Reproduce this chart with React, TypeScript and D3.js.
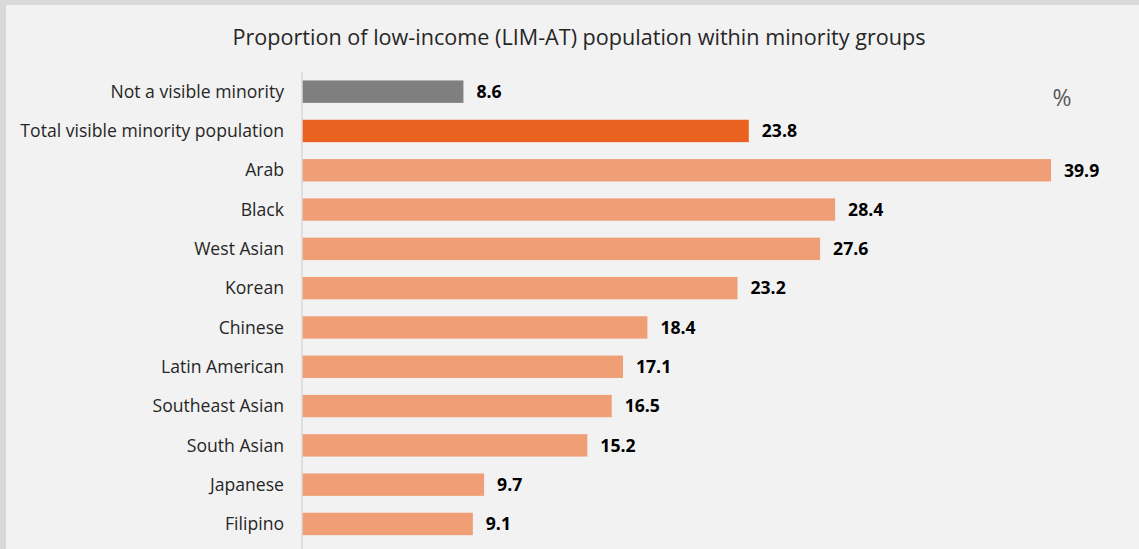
import React, { useRef, useEffect } from "react";
import { select, scaleLinear, scaleBand } from "d3";

const categories = [
  "Not a visible minority",
  "Total visible minority population",
  "Arab",
  "Black",
  "West Asian",
  "Korean",
  "Chinese",
  "Latin American",
  "Southeast Asian",
  "South Asian",
  "Japanese",
  "Filipino",
];
const values = [8.6, 23.8, 39.9, 28.4, 27.6, 23.2, 18.4, 17.1, 16.5, 15.2, 9.7, 9.1];
const title = "Proportion of low-income (LIM-AT) population within minority groups";
const unit = "%";

const width = 1139;
const height = 549;
const font = "'Open Sans', 'Noto Sans', sans-serif";

const barColor = (i: number) => (i === 0 ? "#7f7f7f" : i === 1 ? "#e9621f" : "#ef9e76");

const App: React.FC = () => {
  const svgRef = useRef<SVGSVGElement>(null);

  useEffect(() => {
    const svg = select(svgRef.current);
    svg.selectAll("*").remove();

    const x = scaleLinear().domain([0, 39.9]).range([302, 1051]);
    const y = scaleBand<string>()
      .domain(categories)
      .range([72, 72 + 12 * 39.3])
      .paddingInner(0.43)
      .paddingOuter(0.215);

    // background + frame
    svg.append("rect").attr("width", width).attr("height", height).attr("fill", "#d9d9d9");
    svg
      .append("rect")
      .attr("x", 6)
      .attr("y", 5)
      .attr("width", width - 6)
      .attr("height", height - 5)
      .attr("fill", "#f2f2f2");

    svg
      .append("text")
      .attr("x", 579)
      .attr("y", 45)
      .attr("text-anchor", "middle")
      .attr("font-family", font)
      .attr("font-size", 21.6)
      .attr("fill", "#262626")
      .text(title);

    svg
      .append("text")
      .attr("x", 1062)
      .attr("y", 106)
      .attr("text-anchor", "middle")
      .attr("font-family", font)
      .attr("font-size", 23)
      .attr("fill", "#595959")
      .text(unit);

    const rows = svg
      .selectAll("g.row")
      .data(categories)
      .join("g")
      .attr("class", "row");

    rows
      .append("rect")
      .attr("x", x(0))
      .attr("y", (d) => y(d)!)
      .attr("width", (d, i) => x(values[i]) - x(0))
      .attr("height", y.bandwidth())
      .attr("fill", (d, i) => barColor(i));

    rows
      .append("text")
      .attr("x", 284)
      .attr("y", (d) => y(d)! + y.bandwidth() / 2)
      .attr("dy", "0.35em")
      .attr("text-anchor", "end")
      .attr("font-family", font)
      .attr("font-size", 17.6)
      .attr("fill", "#262626")
      .text((d) => d);

    rows
      .append("text")
      .attr("x", (d, i) => x(values[i]) + 13)
      .attr("y", (d) => y(d)! + y.bandwidth() / 2)
      .attr("dy", "0.36em")
      .attr("font-family", font)
      .attr("font-size", 17.6)
      .attr("font-weight", "bold")
      .attr("fill", "#000")
      .text((d, i) => values[i].toFixed(1));

    svg
      .append("line")
      .attr("x1", x(0))
      .attr("x2", x(0))
      .attr("y1", 72)
      .attr("y2", height)
      .attr("stroke", "#d9d9d9")
      .attr("stroke-width", 1.5);
  }, []);

  return (
    <div style={{ position: "fixed", left: 0, top: 0 }}>
      <svg ref={svgRef} width={width} height={height} style={{ display: "block" }}></svg>
    </div>
  );
};

export default App;
